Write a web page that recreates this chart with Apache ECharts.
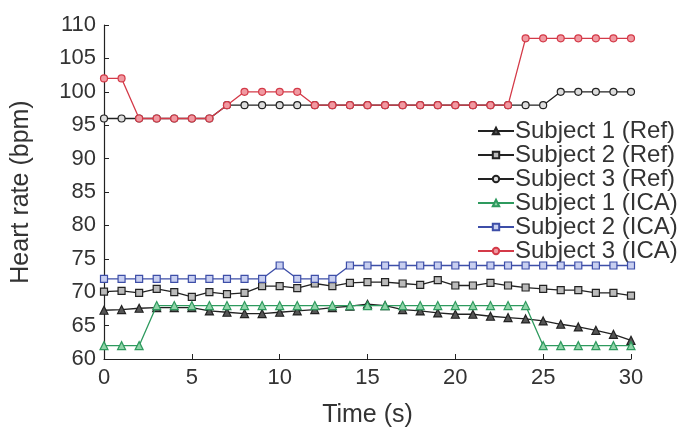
<!DOCTYPE html>
<html><head><meta charset="utf-8">
<script src="https://cdn.jsdelivr.net/npm/echarts@6/dist/echarts.min.js"></script>
<style>html,body{margin:0;padding:0;background:#fff}#c{width:683px;height:434px}</style>
</head><body><div id="c"></div>
<script>
const time = Array.from({length:31},(_,i)=>i);
const s1Ref = [67.3,67.4,67.6,67.7,67.7,67.7,67.2,67.0,66.8,66.8,67.0,67.2,67.4,67.7,67.9,68.2,68.0,67.4,67.2,66.9,66.7,66.7,66.4,66.2,66.0,65.7,65.2,64.8,64.3,63.7,62.8];
const s2Ref = [70.1,70.2,69.9,70.5,70.0,69.3,70.0,69.7,69.9,70.9,70.9,70.6,71.3,70.9,71.4,71.5,71.5,71.3,71.1,71.8,71.0,71.0,71.4,71.0,70.7,70.5,70.3,70.3,69.9,69.9,69.5];
const s3Ref = [96,96,96,96,96,96,96,98,98,98,98,98,98,98,98,98,98,98,98,98,98,98,98,98,98,98,100,100,100,100,100];
const s1ICA = [62,62,62,68,68,68,68,68,68,68,68,68,68,68,68,68,68,68,68,68,68,68,68,68,68,62,62,62,62,62,62];
const s2ICA = [72,72,72,72,72,72,72,72,72,72,74,72,72,72,74,74,74,74,74,74,74,74,74,74,74,74,74,74,74,74,74];
const s3ICA = [102,102,96,96,96,96,96,98,100,100,100,100,98,98,98,98,98,98,98,98,98,98,98,98,108,108,108,108,108,108,108];
const names = ['Subject 1 (Ref)','Subject 2 (Ref)','Subject 3 (Ref)','Subject 1 (ICA)','Subject 2 (ICA)','Subject 3 (ICA)'];
const yTicks = [60,65,70,75,80,85,90,95,100,105,110];
const xTicks = [0,5,10,15,20,25,30];

const FONT = 'Liberation Sans';
function mk(name, data, color, symbol, fill, z){
  return {name, type:'line', data: data.map((v,i)=>[time[i],v]), symbol, symbolSize: symbol==='triangle'?8:7,
    z, lineStyle:{color, width:1.3}, itemStyle:{color:fill, borderColor:color, borderWidth:1.2}};
}
const chart = echarts.init(document.getElementById('c'));
chart.setOption({
  animation:false,
  grid:{left:104,right:52,top:25,bottom:75},
  xAxis:{type:'value',min:xTicks[0],max:xTicks[xTicks.length-1],interval:5,name:'Time (s)',nameLocation:'middle',nameGap:44,
    nameTextStyle:{fontSize:25,color:'#333',fontFamily:FONT},
    axisLine:{lineStyle:{color:'#222',width:1.2}},axisTick:{inside:true,length:5,lineStyle:{color:'#222'}},
    axisLabel:{fontSize:22,color:'#333',margin:8,fontFamily:FONT},splitLine:{show:false}},
  yAxis:{type:'value',min:yTicks[0],max:yTicks[yTicks.length-1],interval:5,name:'Heart rate (bpm)',nameLocation:'middle',nameGap:70,
    nameTextStyle:{fontSize:25,color:'#333',fontFamily:FONT},
    axisLine:{show:true,lineStyle:{color:'#222',width:1.2}},axisTick:{show:true,inside:true,length:5,lineStyle:{color:'#222'}},
    axisLabel:{fontSize:22,color:'#333',margin:8,fontFamily:FONT},splitLine:{show:false}},
  legend:{orient:'vertical',left:477,top:119,itemWidth:36,itemHeight:8,itemGap:0,padding:0,
    textStyle:{fontSize:24,lineHeight:22,color:'#333',fontFamily:FONT,padding:[0,0,0,-4]},
    data:names},
  series:[
    mk(names[0], s1Ref, '#222222','triangle','#555',3),
    mk(names[1], s2Ref, '#222222','rect','#bbb',3),
    mk(names[2], s3Ref, '#222222','circle','#ddd',3),
    mk(names[3], s1ICA, '#2e9a5e','triangle','#8fd4a8',4),
    mk(names[4], s2ICA, '#3d4ea8','rect','#c8cff0',4),
    mk(names[5], s3ICA, '#d43a48','circle','#f09aa2',5)
  ]
});
</script></body></html>
